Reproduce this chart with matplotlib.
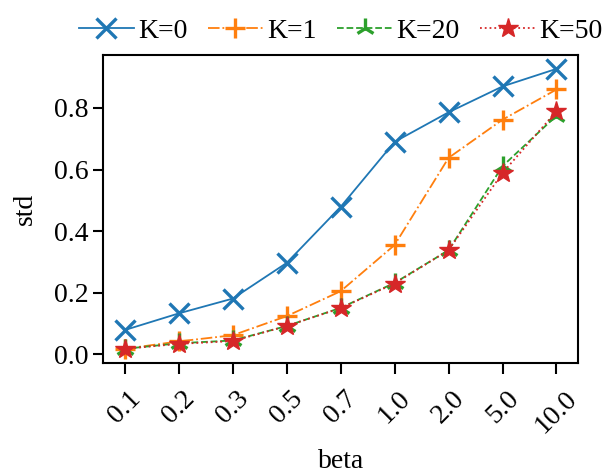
import matplotlib
matplotlib.use("Agg")
import matplotlib.pyplot as plt

betas = ["0.1", "0.2", "0.3", "0.5", "0.7", "1.0", "2.0", "5.0", "10.0"]
k0 = [0.079, 0.133, 0.181, 0.297, 0.479, 0.690, 0.786, 0.870, 0.927]
k1 = [0.018, 0.042, 0.062, 0.124, 0.205, 0.355, 0.638, 0.762, 0.860]
k20 = [0.018, 0.036, 0.045, 0.092, 0.151, 0.232, 0.338, 0.611, 0.775]
k50 = [0.018, 0.034, 0.043, 0.092, 0.150, 0.230, 0.338, 0.589, 0.789]

plt.rcParams['font.family'] = ['Liberation Serif', 'DejaVu Serif']
plt.rcParams['font.size'] = 20
plt.rcParams['mathtext.fontset'] = 'stix'

fig = plt.figure(figsize=(6.04, 4.73), dpi=100)
ax = fig.add_axes([0.171, 0.233, 0.786, 0.651])
x = list(range(len(betas)))
ax.plot(x, k0, marker='x', linestyle='-', color='#1f77b4', markersize=14, markeredgewidth=2.4, linewidth=1.3, label='K=0')
ax.plot(x, k1, marker='+', linestyle='-.', color='#ff7f0e', markersize=15, markeredgewidth=2.4, linewidth=1.3, label='K=1')
ax.plot(x, k20, marker='2', linestyle='--', color='#2ca02c', markersize=15, markeredgewidth=2.4, linewidth=1.3, label='K=20')
ax.plot(x, k50, marker='*', linestyle=':', color='#d62728', markersize=15, linewidth=1.3, label='K=50')
ax.set_xticks(x)
ax.set_xticklabels(betas, rotation=45)
ax.set_xlabel('beta', labelpad=8)
ax.set_ylabel('std', labelpad=12)
for s in ax.spines.values():
    s.set_linewidth(1.5)
ax.tick_params(width=1.5, length=7)
ax.tick_params(axis='x', length=8, pad=9)
ax.legend(loc='lower center', bbox_to_anchor=(0.5, 1.0), ncol=4, frameon=False,
          handlelength=2.0, columnspacing=0.72, handletextpad=0.15, borderaxespad=0.3,
          borderpad=0.1)
fig.savefig('out.png', dpi=100)
